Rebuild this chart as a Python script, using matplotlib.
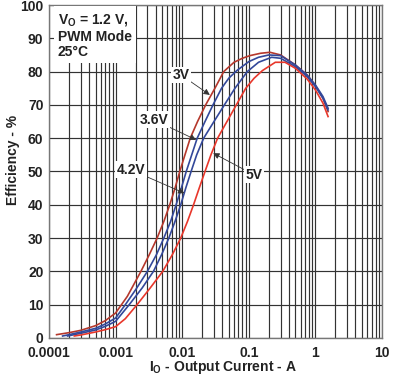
import matplotlib
matplotlib.use("Agg")
import matplotlib.pyplot as plt
from matplotlib.ticker import LogLocator, FixedLocator, NullFormatter

plt.rcParams['font.family'] = ['Liberation Sans', 'DejaVu Sans']
plt.rcParams['font.weight'] = 'bold'
plt.rcParams['font.size'] = 10
plt.rcParams['mathtext.fontset'] = 'custom'
plt.rcParams['mathtext.rm'] = 'Liberation Sans:bold'
plt.rcParams['mathtext.default'] = 'rm'

# efficiency curves (current in A, efficiency in %)
cur_3v = [1.3e-4, 2e-4, 3e-4, 5e-4, 7e-4, 0.001, 0.0015, 0.0024, 0.0032, 0.0042,
          0.0053, 0.0065, 0.0078, 0.0092, 0.011, 0.0132, 0.017, 0.0225, 0.031, 0.042,
          0.06, 0.08, 0.104, 0.15, 0.208, 0.3, 0.5, 0.75, 1.0, 1.3, 1.55]
eff_3v = [1.0, 1.6, 2.3, 3.7, 5.2, 7.5, 12.5, 20, 25, 30,
          35, 40, 45, 50, 55, 60, 65, 70, 75, 80,
          82.8, 84, 84.8, 85.5, 85.8, 85, 82, 79, 75.8, 72, 68]

cur_36v = [1.6e-4, 2e-4, 3e-4, 5e-4, 7e-4, 0.001, 0.0014, 0.002, 0.003, 0.0041,
           0.0053, 0.0067, 0.0081, 0.0097, 0.0115, 0.0139, 0.0168, 0.022, 0.029, 0.039,
           0.05, 0.066, 0.1, 0.14, 0.2, 0.3, 0.5, 0.75, 1.0, 1.3, 1.55]
eff_36v = [0.6, 1.0, 1.8, 2.9, 4.2, 6.0, 10, 14.5, 20, 25,
           30, 35, 40, 45, 50, 55, 60, 65, 70, 75,
           78, 80.3, 83, 84.3, 85, 84.8, 82, 79, 76, 72.5, 69]

cur_42v = [1.9e-4, 3e-4, 5e-4, 7e-4, 0.001, 0.0016, 0.0025, 0.0037, 0.0049, 0.0063,
           0.0078, 0.0095, 0.0113, 0.0136, 0.0165, 0.021, 0.03, 0.043, 0.062, 0.095,
           0.14, 0.22, 0.3, 0.5, 0.75, 1.0, 1.3, 1.55]
eff_42v = [0.6, 1.4, 2.4, 3.5, 5.0, 10, 15, 20, 25, 30,
           35, 40, 45, 50, 55, 60, 65, 70, 75, 80,
           82.8, 84.3, 84, 81.5, 78.5, 75.5, 72, 68.5]

cur_5v = [2.4e-4, 3e-4, 5e-4, 7e-4, 0.001, 0.0014, 0.0021, 0.0033, 0.0051, 0.0071,
          0.0095, 0.012, 0.0148, 0.018, 0.022, 0.027, 0.034, 0.047, 0.065, 0.09,
          0.12, 0.16, 0.25, 0.35, 0.5, 0.75, 1.0, 1.3, 1.55]
eff_5v = [0.6, 0.9, 1.8, 2.5, 3.4, 5.8, 10, 15, 20, 25,
          30, 35, 40, 45, 50, 55, 60, 65, 70, 75,
          78, 80.3, 82.8, 82.8, 81, 77.8, 74.5, 70.5, 66.5]

x_ticks = [0.0001, 0.001, 0.01, 0.1, 1, 10]
x_labels = ["0.0001", "0.001", "0.01", "0.1", "1", "10"]
y_ticks = list(range(0, 101, 10))

# curve labels: text, label position, arrow tip
labels = [
    ("3V", (0.0096, 79), (0.026, 73)),
    ("3.6V", (0.00377, 65.5), (0.0162, 59.5)),
    ("4.2V", (0.0017, 50.5), (0.0108, 43.5)),
    ("5V", (0.12, 49), (0.0292, 55.5)),
]

txt = '#222222'
fig = plt.figure(figsize=(3.98, 3.82), dpi=100)
ax = fig.add_axes([0.1231, 0.1152, 0.8367, 0.8717])

ax.set_xscale('log')
ax.set_xlim(1e-4, 10)
ax.set_ylim(0, 100)
ax.xaxis.set_major_locator(FixedLocator(x_ticks))
ax.set_xticklabels(x_labels)
ax.xaxis.set_minor_locator(LogLocator(base=10, subs=range(2, 10)))
ax.xaxis.set_minor_formatter(NullFormatter())
ax.set_yticks(y_ticks)
ax.tick_params(which='both', length=0, colors=txt, labelsize=10)
ax.tick_params(axis='x', pad=6)
ax.tick_params(axis='y', pad=4)
ax.grid(True, which='both', color='#333333', lw=0.85)
ax.set_axisbelow(True)
for s in ax.spines.values():
    s.set_color('#777777')
    s.set_linewidth(1.0)

ax.plot(cur_3v, eff_3v, color='#b5382c', lw=1.2)
ax.plot(cur_36v, eff_36v, color='#33489a', lw=1.2)
ax.plot(cur_42v, eff_42v, color='#33489a', lw=1.2)
ax.plot(cur_5v, eff_5v, color='#e8372b', lw=1.2)

for name, pos, tip in labels:
    ax.annotate(name, xy=tip, xytext=pos, ha='center', va='center', color=txt,
                fontsize=10, fontweight='bold',
                bbox=dict(boxstyle='square,pad=0.1', fc='white', ec='none'),
                arrowprops=dict(arrowstyle='-|>', color='#333333', lw=0.6,
                                mutation_scale=9, shrinkA=0, shrinkB=0))

ax.text(0.027, 0.979, "V$_{O}$ = 1.2 V,\nPWM Mode\n25°C", transform=ax.transAxes,
        ha='left', va='top', color=txt, fontsize=10, fontweight='bold', linespacing=1.15,
        bbox=dict(boxstyle='square,pad=0.3', fc='white', ec='none'))

ax.set_ylabel("Efficiency - %", color=txt, fontsize=10, fontweight='bold')
ax.yaxis.set_label_coords(-0.088, 0.536)
ax.set_xlabel("I$_{O}$ - Output Current - A", color=txt, fontsize=10, fontweight='bold')
ax.xaxis.set_label_coords(0.523, -0.063)

fig.savefig("out.png", dpi=100)
